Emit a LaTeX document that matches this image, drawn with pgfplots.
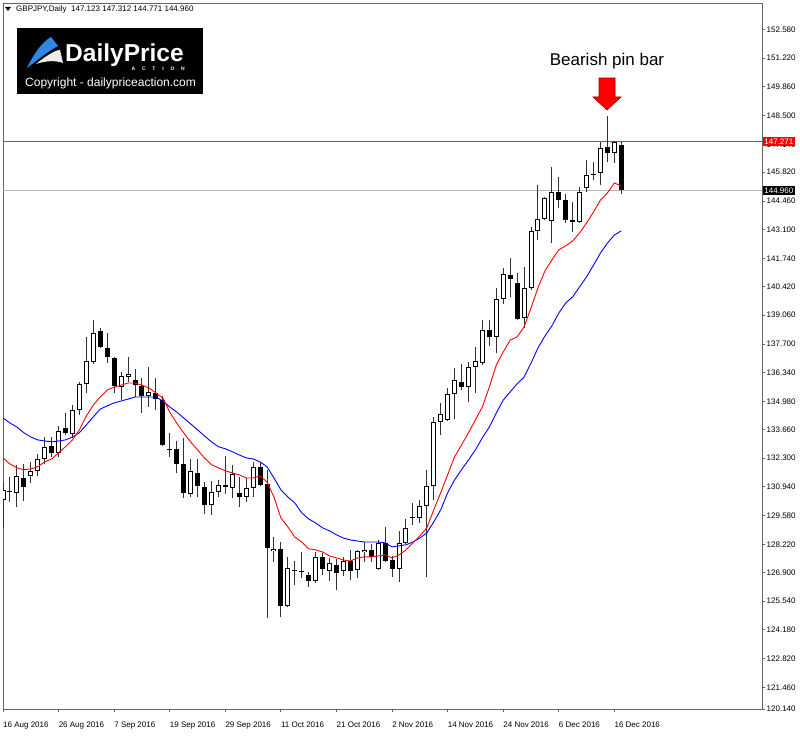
\documentclass[border=0pt]{standalone}
\usepackage{pgfplots}
\usepackage{pgfplotstable}
\pgfplotsset{compat=1.18}
\usepackage{fontspec}
\setmainfont{Liberation Sans}
\definecolor{maRed}{RGB}{255,0,0}
\definecolor{maBlue}{RGB}{0,0,255}
\definecolor{lvlRed}{RGB}{255,40,40}
\definecolor{lvlGray}{RGB}{185,185,185}
\definecolor{frameGray}{RGB}{100,100,100}
\definecolor{wickGray}{RGB}{50,50,50}
\definecolor{logoBlue}{RGB}{45,135,230}

\pgfplotstableread{
i o h l c
0 130.32 131.17 128.99 130.80
2 130.66 131.99 129.99 131.46
4 131.46 132.12 131.12 131.70
5 131.70 132.50 131.46 132.26
6 132.26 133.30 132.02 132.84
8 132.55 133.82 132.36 133.59
10 133.45 134.81 133.26 134.58
11 134.58 135.90 134.34 135.81
12 135.81 138.03 135.38 136.89
13 136.84 138.84 136.75 138.22
17 135.66 136.37 135.04 136.18
18 136.13 137.08 135.89 136.28
21 135.23 136.61 134.72 135.43
27 130.61 132.26 130.46 131.70
30 130.08 131.22 129.61 130.70
31 130.70 131.27 130.46 131.03
33 130.89 131.99 130.42 131.55
35 130.46 131.36 130.23 130.89
36 130.89 132.12 130.46 131.89
39 127.91 128.57 127.39 128.01
41 125.30 127.63 125.25 127.11
42 126.97 127.43 126.30 127.01
43 126.92 127.86 126.63 126.97
45 126.49 127.86 126.39 127.63
47 126.97 127.58 126.49 127.34
49 126.97 127.63 126.73 127.43
51 127.01 127.96 126.63 127.91
52 127.86 128.34 127.39 127.96
54 127.06 128.43 127.01 128.29
57 127.06 128.86 126.44 128.29
58 128.29 129.42 128.24 129.00
59 129.47 130.18 129.14 129.52
60 129.47 130.32 129.23 130.03
61 130.03 131.75 126.68 130.98
62 130.98 134.24 130.32 134.01
63 134.01 134.91 133.40 134.38
64 134.11 135.62 134.06 135.33
65 135.33 136.56 134.15 135.99
67 135.66 136.84 134.95 136.61
68 136.61 137.56 135.38 136.89
69 136.79 138.84 136.70 138.36
71 138.03 140.35 137.27 139.82
72 139.82 141.30 139.59 141.01
75 138.92 141.34 138.45 140.35
76 140.35 143.24 140.25 143.05
77 143.05 145.21 142.61 143.61
78 143.61 144.66 143.56 144.61
79 143.51 146.07 142.48 144.89
83 143.47 145.12 143.42 144.89
84 145.07 146.40 144.89 145.69
85 145.69 146.30 145.45 145.74
86 145.79 147.25 145.21 146.97
88 146.74 147.30 146.26 147.25
}\bull

\pgfplotstableread{
i o h l c
1 130.75 131.41 130.23 130.70
3 131.36 132.03 130.27 130.93
7 132.88 133.30 132.36 132.55
9 133.73 134.44 133.40 133.50
14 138.31 138.46 137.51 137.56
15 137.51 138.22 136.79 137.08
16 137.03 137.08 135.38 135.70
19 135.99 136.52 135.19 135.75
20 135.70 136.09 134.43 135.23
22 135.38 136.09 134.58 135.09
23 135.04 135.23 132.87 132.92
24 132.73 133.50 132.36 132.68
25 132.73 133.11 131.60 132.02
26 132.02 133.26 130.42 130.66
28 131.60 132.26 130.46 130.98
29 130.93 131.17 129.66 130.08
32 131.03 132.41 130.61 130.93
34 130.66 131.41 129.99 130.46
37 131.89 132.07 130.98 131.03
38 131.08 131.75 124.74 128.06
40 128.01 128.34 124.79 125.30
44 126.77 126.92 126.20 126.49
46 127.63 127.82 126.77 127.06
48 127.24 127.53 126.06 126.87
50 127.43 127.96 126.54 126.97
53 127.96 128.25 127.39 127.63
55 128.29 129.05 127.38 127.43
56 127.48 127.67 126.68 127.06
66 135.89 136.76 135.52 135.66
70 138.36 138.84 137.61 138.03
73 140.96 141.77 139.92 140.78
74 140.59 141.06 138.83 138.88
80 144.89 145.60 144.12 144.51
81 144.51 144.79 143.42 143.56
82 143.56 144.41 142.99 143.47
87 147.01 148.48 146.30 146.74
89 147.123 147.312 144.771 144.960
}\bear

\pgfplotstableread{
i red blue
0 132.31 134.20
1 132.02 133.96
2 131.84 133.77
3 131.75 133.50
4 131.79 133.30
5 131.89 133.16
6 132.12 133.11
7 132.26 133.07
8 132.55 133.11
9 132.84 133.16
10 133.16 133.30
11 133.64 133.50
12 134.29 133.87
13 134.81 134.25
14 135.19 134.62
15 135.52 134.77
16 135.66 134.91
17 135.75 135.00
18 135.85 135.09
19 135.85 135.19
20 135.75 135.19
21 135.62 135.19
22 135.38 135.19
23 135.14 135.00
24 134.48 134.72
25 133.96 134.48
26 133.50 134.20
27 133.07 133.92
28 132.69 133.64
29 132.31 133.35
30 131.99 133.07
31 131.84 132.84
32 131.70 132.74
33 131.60 132.60
34 131.51 132.45
35 131.36 132.31
36 131.36 132.26
37 131.46 132.12
38 131.17 131.89
39 130.46 131.36
40 129.47 130.80
41 129.05 130.46
42 128.57 130.18
43 128.33 129.71
44 128.01 129.42
45 127.96 129.23
46 127.86 129.00
47 127.67 128.86
48 127.58 128.67
49 127.48 128.52
50 127.43 128.43
51 127.58 128.38
52 127.63 128.33
53 127.63 128.33
54 127.67 128.33
55 127.72 128.29
56 127.58 128.10
57 127.72 128.15
58 127.96 128.20
59 128.29 128.33
60 128.62 128.52
61 129.00 128.76
62 129.85 129.28
63 130.66 129.85
64 131.51 130.66
65 132.36 131.27
66 132.92 131.75
67 133.50 132.21
68 134.11 132.69
69 134.72 133.26
70 135.66 133.77
71 136.70 134.43
72 137.32 135.04
73 137.88 135.43
74 138.03 135.81
75 138.50 136.13
76 139.40 136.79
77 140.35 137.51
78 141.15 138.07
79 141.67 138.55
80 142.15 139.16
81 142.34 139.64
82 142.57 139.93
83 142.95 140.40
84 143.42 140.87
85 143.94 141.43
86 144.51 142.00
87 144.84 142.47
88 145.31 142.85
89 145.17 143.05
}\ma

\pgfplotsset{
  candle/.style={only marks, mark size=0pt, mark options={draw=none, fill=none},
    error bars/.cd, y dir=plus, y explicit, error mark=none},
}

\begin{document}
\begin{tikzpicture}
\fill[white] (0pt,0pt) rectangle (800pt,737pt);
\path[use as bounding box] (0pt,0pt) rectangle (800pt,737pt);
\begin{axis}[
  at={(3pt,28pt)}, anchor=south west,
  scale only axis, width=759pt, height=705pt,
  xmin=0, xmax=109.25, ymin=120.433, ymax=153.777,
  clip mode=individual,
  axis line style={draw=frameGray, line width=1pt},
  xtick={0,8,...,88},
  xticklabels={16 Aug 2016,26 Aug 2016,7 Sep 2016,19 Sep 2016,29 Sep 2016,11 Oct 2016,21 Oct 2016,2 Nov 2016,14 Nov 2016,24 Nov 2016,6 Dec 2016,16 Dec 2016},
  xtick pos=left, ytick pos=right, yticklabel pos=right,
  tick align=outside, major tick length=3pt,
  tick style={draw=frameGray, line width=0.8pt},
  ytick={120.433,121.46,122.82,124.18,125.54,126.90,128.22,129.58,130.94,132.30,133.66,134.98,136.34,137.70,139.06,140.42,141.74,143.10,144.46,145.82,147.14,148.50,149.86,151.22,152.58},
  yticklabels={120.140,121.460,122.820,124.180,125.540,126.900,128.220,129.580,130.940,132.300,133.660,134.980,136.340,137.700,139.060,140.420,141.740,143.100,144.460,145.820,147.140,148.500,149.860,151.220,152.580},
  xticklabel style={font=\fontsize{8}{9}\selectfont, anchor=north west, inner sep=0pt, yshift=-10pt},
  yticklabel style={font=\fontsize{8}{9}\selectfont, anchor=west, inner sep=0pt, xshift=1.5pt},
]
% level lines (horizontal reference levels)
\draw[lvlRed, line width=1.2pt] (axis cs:0,147.271) -- (axis cs:109.25,147.271);
\draw[lvlGray, line width=1pt] (axis cs:0,144.96) -- (axis cs:109.25,144.96);
% wicks
\addplot[candle, error bar style={line width=1pt, draw=wickGray}]
  table[x=i, y=l, y error expr=\thisrow{h}-\thisrow{l}] {\bull};
\addplot[candle, error bar style={line width=1pt, draw=wickGray}]
  table[x=i, y=l, y error expr=\thisrow{h}-\thisrow{l}] {\bear};
% bear bodies
\addplot[candle, error bar style={line width=5pt, draw=black}]
  table[x=i, y=c, y error expr={max(\thisrow{o}-\thisrow{c},0.05)}] {\bear};
% bull bodies
\addplot[candle, error bar style={line width=5pt, draw=black}]
  table[x=i, y=o, y error expr={max(\thisrow{c}-\thisrow{o},0.05)}] {\bull};
\addplot[candle, error bar style={line width=3pt, draw=white}]
  table[x=i, y expr=\thisrow{o}+0.047, y error expr={max(\thisrow{c}-\thisrow{o}-0.094,0)}] {\bull};
% moving averages
\addplot[draw=maBlue, line width=0.9pt, no markers] table[x=i, y=blue] {\ma};
\addplot[draw=maRed, line width=0.9pt, no markers] table[x=i, y=red] {\ma};
% price boxes
\node[fill=red, text=white, font=\fontsize{8}{8}\selectfont, inner xsep=1.2pt, inner ysep=1.5pt, anchor=west, xshift=1pt] at (axis cs:109.25,147.271) {147.271};
\node[fill=black, text=white, font=\fontsize{8}{8}\selectfont, inner xsep=1.2pt, inner ysep=1.5pt, anchor=west, xshift=1pt] at (axis cs:109.25,144.96) {144.960};
\end{axis}
% title
\fill[black] (5pt,730pt) -- (11pt,730pt) -- (8pt,726pt) -- cycle;
\node[anchor=west, inner sep=0pt, font=\fontsize{8}{9}\selectfont] at (16pt,728pt) {GBPJPY,Daily\ \ 147.123 147.312 144.771 144.960};
% logo
\fill[black] (17pt,643pt) rectangle (203pt,709pt);
\fill[logoBlue] (27pt,669pt) .. controls (33pt,682pt) and (42pt,695pt) .. (51pt,700pt) -- (58pt,691pt) .. controls (50pt,687pt) and (40pt,679pt) .. cycle;
\fill[white!85!gray] (36pt,673pt) .. controls (46pt,681pt) and (55pt,687pt) .. (60pt,687pt) -- (63pt,674pt) .. controls (55pt,677pt) and (45pt,676pt) .. cycle;
\node[anchor=base west, inner sep=0pt, text=white, font=\fontsize{24.5}{24.5}\selectfont\bfseries] at (65pt,675pt) {DailyPrice};
\node[anchor=base east, inner sep=0pt, text=white, font=\fontsize{5}{5}\selectfont\bfseries] at (185pt,666pt) {A\hspace{6.8pt}C\hspace{6.8pt}T\hspace{6.8pt}I\hspace{6.8pt}O\hspace{6.8pt}N};
\node[anchor=base west, inner sep=0pt, text=white, font=\fontsize{12}{13}\selectfont] at (25pt,650pt) {Copyright - dailypriceaction.com};
% annotation
\node[inner sep=0pt, font=\fontsize{17}{18}\selectfont] at (607pt,676pt) {Bearish pin bar};
\draw[fill=red, draw=red!65!black, line width=0.6pt] (599pt,659pt) -- (615pt,659pt) -- (615pt,640pt) -- (621pt,640pt) -- (607pt,627pt) -- (593pt,640pt) -- (599pt,640pt) -- cycle;
\end{tikzpicture}
\end{document}
